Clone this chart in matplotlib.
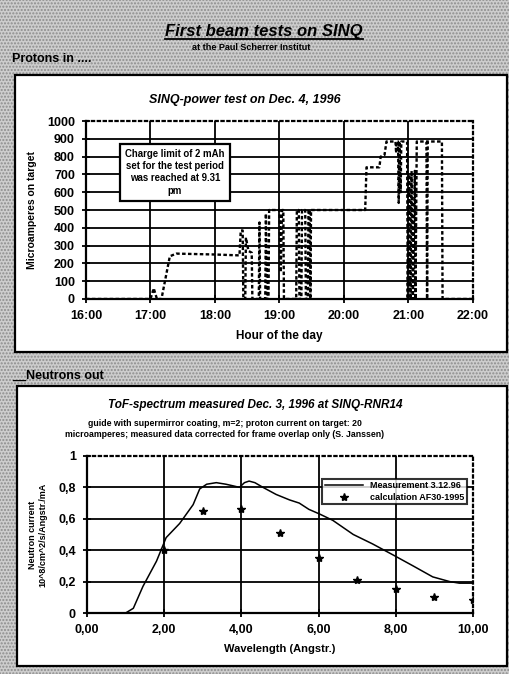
import matplotlib
matplotlib.use("Agg")
import matplotlib.pyplot as plt
from matplotlib.patches import Rectangle
from matplotlib.lines import Line2D

plt.rcParams['font.family'] = ['Liberation Sans', 'DejaVu Sans']
plt.rcParams['font.weight'] = 'bold'
plt.rcParams['axes.labelweight'] = 'bold'

# --- proton beam current, Dec. 4 1996 (hour of day, microamperes) ---
hours = [16.00, 17.00, 17.05, 17.10, 17.17, 17.30, 17.40, 18.00, 18.38, 18.40,
         18.43, 18.44, 18.47, 18.48, 18.52, 18.57, 18.58, 18.68, 18.69, 18.70,
         18.78, 18.79, 18.81, 18.83, 18.84, 19.00, 19.02, 19.04, 19.06, 19.07,
         19.26, 19.27, 19.30, 19.31, 19.34, 19.35, 19.40, 19.41, 19.44, 19.45,
         19.47, 19.48, 19.49, 20.33, 20.35, 20.55, 20.57, 20.63, 20.66, 20.80,
         20.81, 20.82, 20.84, 20.85, 20.86, 20.88, 20.89, 20.98, 20.99, 21.01,
         21.03, 21.05, 21.07, 21.09, 21.10, 21.11, 21.13, 21.28, 21.29, 21.30,
         21.52, 21.53, 22.00]
current = [0, 0, 60, 0, 0, 240, 255, 250, 245, 385,
           385, 0, 0, 345, 270, 260, 0, 0, 430, 0,
           0, 480, 0, 0, 500, 500, 150, 500, 500, 0,
           0, 500, 500, 0, 0, 500, 500, 0, 0, 500,
           500, 0, 500, 500, 740, 740, 800, 810, 885, 885,
           820, 885, 885, 540, 885, 600, 885, 885, 0, 700,
           0, 720, 0, 500, 720, 0, 885, 885, 0, 885,
           885, 0, 0]
hour_ticks = [16, 17, 18, 19, 20, 21, 22]
hour_labels = ['16:00', '17:00', '18:00', '19:00', '20:00', '21:00', '22:00']

# --- ToF spectrum, Dec. 3 1996 ---
wl_meas = [0.93, 1.0, 1.2, 1.45, 1.8, 2.05, 2.4, 2.75, 2.92, 3.1, 3.35, 3.6,
           3.78, 3.95, 4.08, 4.2, 4.35, 4.56, 4.9, 5.25, 5.5, 5.75, 6.03, 6.37,
           6.9, 7.4, 7.93, 8.45, 8.96, 9.4, 9.65, 10.0]
flux_meas = [0.0, 0.0, 0.03, 0.17, 0.33, 0.48, 0.57, 0.69, 0.79, 0.82, 0.83, 0.82,
             0.81, 0.80, 0.83, 0.84, 0.83, 0.80, 0.755, 0.72, 0.70, 0.66, 0.63, 0.59,
             0.50, 0.44, 0.37, 0.30, 0.23, 0.20, 0.19, 0.19]
wl_calc = [2, 3, 4, 5, 6, 7, 8, 9, 10]
flux_calc = [0.40, 0.65, 0.66, 0.51, 0.35, 0.21, 0.15, 0.10, 0.08]
wl_ticks = [0, 2, 4, 6, 8, 10]
wl_labels = ['0,00', '2,00', '4,00', '6,00', '8,00', '10,00']
flux_ticks = [0, 0.2, 0.4, 0.6, 0.8, 1.0]
flux_labels = ['0', '0,2', '0,4', '0,6', '0,8', '1']

fig = plt.figure(figsize=(5.09, 6.74), dpi=100)
fig.patch.set_facecolor('#c8c8c8')
fig.add_artist(Rectangle((0, 0), 1, 1, transform=fig.transFigure, facecolor='#cdcdcd',
                         edgecolor='#8c8c8c', hatch='.....', lw=0, zorder=-10))

# white panels
for y0, h, x0 in [(0.4777, 0.411, 0.0295), (0.0119, 0.4154, 0.0334)]:
    fig.add_artist(Rectangle((x0, y0), 0.996 - x0, h, transform=fig.transFigure,
                             facecolor='white', edgecolor='black', lw=1.6, zorder=-5))

title = fig.text(0.519, 0.953, 'First beam tests on SINQ', ha='center', va='center',
                 fontsize=12, style='italic')
fig.text(0.493, 0.929, 'at the Paul Scherrer Institut', ha='center', va='center', fontsize=6.5)
fig.text(0.024, 0.912, 'Protons in ....', ha='left', va='center', fontsize=9)
fig.text(0.481, 0.852, 'SINQ-power test on Dec. 4, 1996', ha='center', va='center',
         fontsize=9, style='italic')
fig.text(0.024, 0.442, '__Neutrons out', ha='left', va='center', fontsize=9)
fig.text(0.501, 0.399, 'ToF-spectrum measured Dec. 3, 1996 at SINQ-RNR14', ha='center',
         va='center', fontsize=8.5, style='italic')
fig.text(0.442, 0.372, 'guide with supermirror coating, m=2; proton current on target: 20',
         ha='center', va='center', fontsize=6.3)
fig.text(0.442, 0.356, 'microamperes; measured data corrected for frame overlap only (S. Janssen)',
         ha='center', va='center', fontsize=6.3)


def style_axes(ax, xgrid, ygrid):
    for x in xgrid:
        ax.axvline(x, color='black', lw=1.3, zorder=1)
    for y in ygrid:
        ax.axhline(y, color='black', lw=1.3, zorder=1)
    for s in ['left', 'bottom']:
        ax.spines[s].set_linewidth(1.6)
    for s in ['top', 'right']:
        ax.spines[s].set_linestyle(':')
        ax.spines[s].set_linewidth(1.6)
    ax.tick_params(direction='inout', length=6, width=1.3, labelsize=9, pad=5,
                   top=False, right=False)


# top chart
ax1 = fig.add_axes([0.169, 0.5564, 0.760, 0.264])
ax1.plot(hours, current, color='black', lw=1.7, linestyle=(0, (1.5, 1)), zorder=3)
ax1.set_xlim(16, 22)
ax1.set_ylim(0, 1000)
ax1.set_xticks(hour_ticks)
ax1.set_xticklabels(hour_labels)
ax1.set_yticks(range(0, 1001, 100))
style_axes(ax1, hour_ticks[1:-1], range(100, 1000, 100))
ax1.set_xlabel('Hour of the day', fontsize=8.5, labelpad=6)
ax1.set_ylabel('Microamperes on target', fontsize=7.5, labelpad=7)
ax1.text(17.38, 713, 'Charge limit of 2 mAh\nset for the test period\nwas reached at 9.31\npm',
         ha='center', va='center', fontsize=6.9, linespacing=1.3, zorder=5,
         bbox=dict(boxstyle='square,pad=0.5', fc='white', ec='black', lw=1.6))

# bottom chart
ax2 = fig.add_axes([0.171, 0.0905, 0.758, 0.233])
ax2.plot(wl_meas, flux_meas, color='black', lw=1.1, zorder=3, label='Measurement 3.12.96')
ax2.plot(wl_calc, flux_calc, linestyle='none', marker='*', color='black', markersize=6,
         zorder=4, label='calculation AF30-1995')
ax2.set_xlim(0, 10)
ax2.set_ylim(0, 1)
ax2.set_xticks(wl_ticks)
ax2.set_xticklabels(wl_labels)
ax2.set_yticks(flux_ticks)
ax2.set_yticklabels(flux_labels)
style_axes(ax2, wl_ticks[1:-1], flux_ticks[1:-1])
ax2.set_xlabel('Wavelength (Angstr.)', fontsize=8, labelpad=6)
ax2.set_ylabel('Neutron current\n10^8/cm^2/s/Angstr./mA', fontsize=6.5, labelpad=8,
               linespacing=1.2)
leg = ax2.legend(loc='upper right', bbox_to_anchor=(0.985, 0.855), fontsize=6.5,
                 frameon=True, fancybox=False, borderpad=0.3, labelspacing=0.25,
                 handlelength=4.2, borderaxespad=0)
leg.get_frame().set_edgecolor('black')
leg.get_frame().set_linewidth(1.5)
leg.set_zorder(6)

# underline the main title
fig.canvas.draw()
bb = title.get_window_extent().transformed(fig.transFigure.inverted())
fig.add_artist(Line2D([bb.x0, bb.x1], [bb.y0 + 0.001, bb.y0 + 0.001], color='black', lw=1.3,
                      transform=fig.transFigure))

fig.savefig('out.png', dpi=100, facecolor=fig.get_facecolor())
